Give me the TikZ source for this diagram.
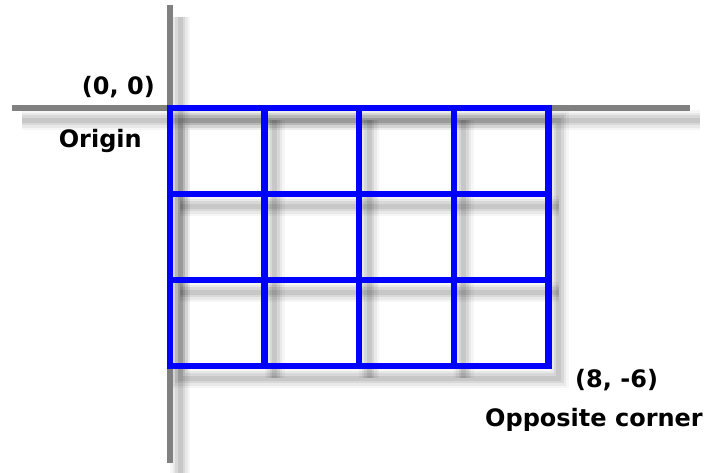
\documentclass[tikz,border=0pt]{standalone}
\usepackage{fontspec}
\setmainfont{DejaVu Sans}
\definecolor{axisgray}{HTML}{808080}
\definecolor{gridblue}{HTML}{0000FF}
\begin{document}
\begin{tikzpicture}[x=1pt,y=-1pt,
  axis/.style={draw=axisgray,line width=6pt},
  gridline/.style={draw=gridblue,line width=6.5pt,line join=miter},
  shadowA/.style={draw=black,opacity=0.035,line width=20pt},
  shadowB/.style={draw=black,opacity=0.05,line width=15pt},
  shadowC/.style={draw=black,opacity=0.07,line width=10pt},
  shadowD/.style={draw=black,opacity=0.08,line width=5pt},
  lbl/.style={font=\fontsize{24}{28}\selectfont\bfseries,inner sep=0pt,text=black}]
\useasboundingbox[fill=white] (0,0) rectangle (711,472);
% shadows
\begin{scope}[shift={(10,12)}]
  \foreach \s in {shadowA,shadowB,shadowC,shadowD}{
    \path[\s] (170,5) -- (170,463);
    \path[\s] (12,108) -- (690,108);
    \path[\s] (170,108) rectangle (548.5,366);
    \path[\s] (264.6,108) -- (264.6,366) (359.1,108) -- (359.1,366) (453.8,108) -- (453.8,366);
    \path[\s] (170,194) -- (548.5,194) (170,280) -- (548.5,280);
  }
\end{scope}
% axes
\path[axis] (170,5) -- (170,463);
\path[axis] (12,108) -- (690,108);
% grid
\path[gridline] (170,108) rectangle (548.5,366);
\path[gridline] (264.6,108) -- (264.6,366) (359.1,108) -- (359.1,366) (453.8,108) -- (453.8,366);
\path[gridline] (170,194) -- (548.5,194) (170,280) -- (548.5,280);
% labels
\node[lbl,anchor=base east] (o) at (155,94) {(0, 0)};
\node[lbl,anchor=base east] (orig) at (142,147) {Origin};
\node[lbl,anchor=base west] (c) at (575,387) {(8, -6)};
\node[lbl,anchor=base west] (opp) at (485,426) {Opposite corner};
\end{tikzpicture}
\end{document}
